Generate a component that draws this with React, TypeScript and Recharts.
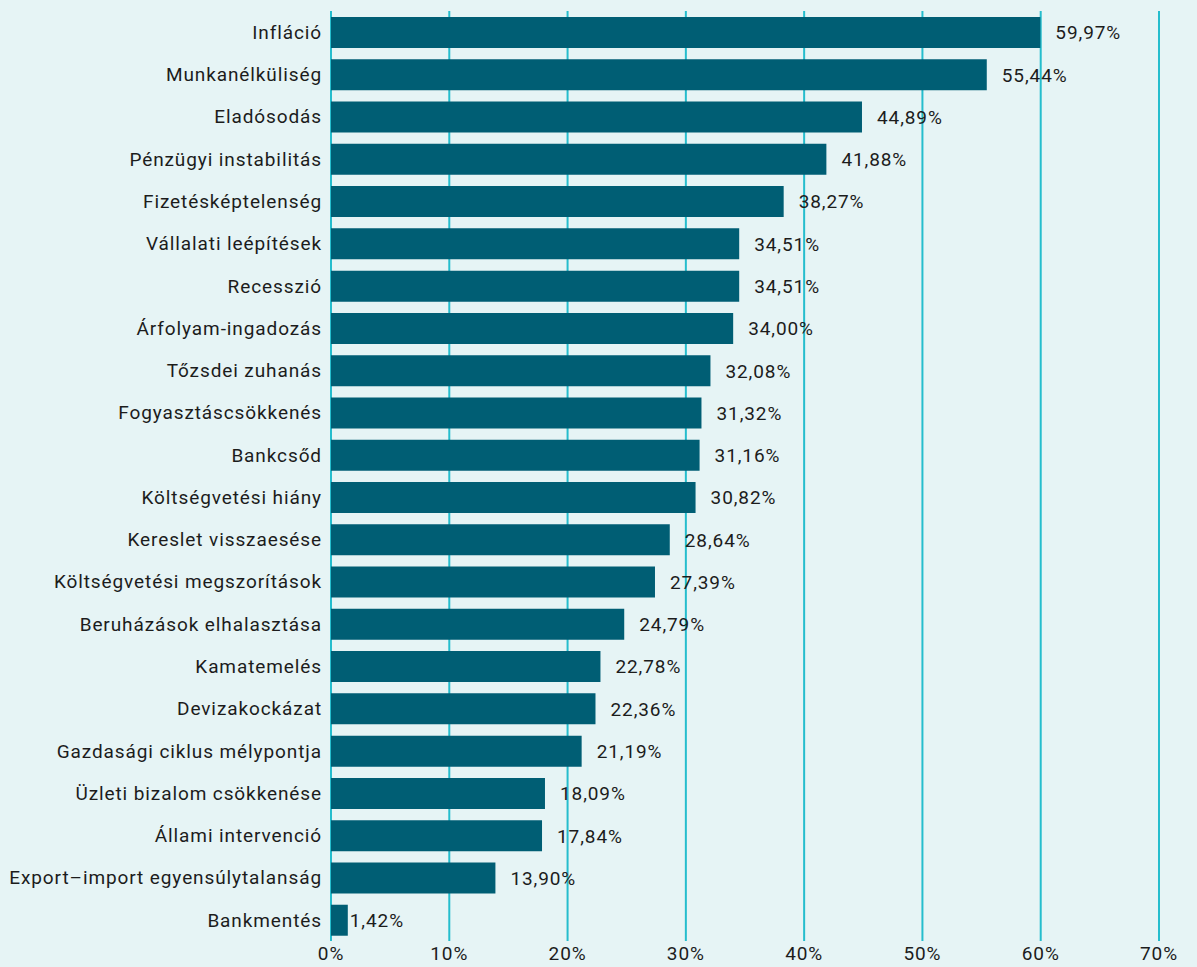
import React from 'react';
import { BarChart, Bar, XAxis, YAxis, CartesianGrid, LabelList } from 'recharts';

const categories = [
  'Infláció',
  'Munkanélküliség',
  'Eladósodás',
  'Pénzügyi instabilitás',
  'Fizetésképtelenség',
  'Vállalati leépítések',
  'Recesszió',
  'Árfolyam-ingadozás',
  'Tőzsdei zuhanás',
  'Fogyasztáscsökkenés',
  'Bankcsőd',
  'Költségvetési hiány',
  'Kereslet visszaesése',
  'Költségvetési megszorítások',
  'Beruházások elhalasztása',
  'Kamatemelés',
  'Devizakockázat',
  'Gazdasági ciklus mélypontja',
  'Üzleti bizalom csökkenése',
  'Állami intervenció',
  'Export–import egyensúlytalanság',
  'Bankmentés',
];

const values = [
  59.97, 55.44, 44.89, 41.88, 38.27, 34.51, 34.51, 34.0, 32.08, 31.32, 31.16,
  30.82, 28.64, 27.39, 24.79, 22.78, 22.36, 21.19, 18.09, 17.84, 13.9, 1.42,
];

const xTicks = [0, 10, 20, 30, 40, 50, 60, 70];

const BG = '#e6f4f5';
const BAR = '#005e74';
const GRID = '#25bdcd';
const TEXT = '#1c1c1c';
const FONT = 'Roboto, "DejaVu Sans", sans-serif';
const SPACING = 0.9;

const data = categories.map((name, i) => ({ name, value: values[i] }));

const fmt = (v: number) => v.toFixed(2).replace('.', ',') + '%';

// label right of the bar; tiny bars get their label tucked closer
const ValueLabel = (props: any) => {
  const { x, y, width, height, value } = props;
  const gap = value < 5 ? 2 : 15;
  return (
    <text
      x={x + width + gap}
      y={y + height / 2}
      dy="0.36em"
      fill={TEXT}
      fontSize={19}
      fontFamily={FONT}
      letterSpacing={SPACING}
    >
      {fmt(value)}
    </text>
  );
};

export default function App() {
  return (
    <div
      style={{
        position: 'absolute',
        top: 0,
        left: 0,
        width: 1197,
        height: 967,
        background: BG,
      }}
    >
      <BarChart
        width={1197}
        height={967}
        data={data}
        layout="vertical"
        margin={{ top: 11, right: 38, left: 0, bottom: 0 }}
      >
        <CartesianGrid horizontal={false} stroke={GRID} strokeWidth={2} />
        <XAxis
          type="number"
          domain={[0, 70]}
          ticks={xTicks}
          tickFormatter={(v) => `${v}%`}
          axisLine={false}
          tickLine={false}
          tickSize={0}
          tickMargin={6}
          height={26}
          interval={0}
          tick={{ fontSize: 19, fontFamily: FONT, fill: TEXT, letterSpacing: SPACING }}
        />
        <YAxis
          type="category"
          dataKey="name"
          width={331}
          axisLine={false}
          tickLine={false}
          tickSize={0}
          tickMargin={9}
          interval={0}
          tick={{ fontSize: 19, fontFamily: FONT, fill: TEXT, letterSpacing: SPACING }}
        />
        <Bar dataKey="value" fill={BAR} barSize={31} isAnimationActive={false}>
          <LabelList dataKey="value" content={<ValueLabel />} />
        </Bar>
      </BarChart>
    </div>
  );
}
